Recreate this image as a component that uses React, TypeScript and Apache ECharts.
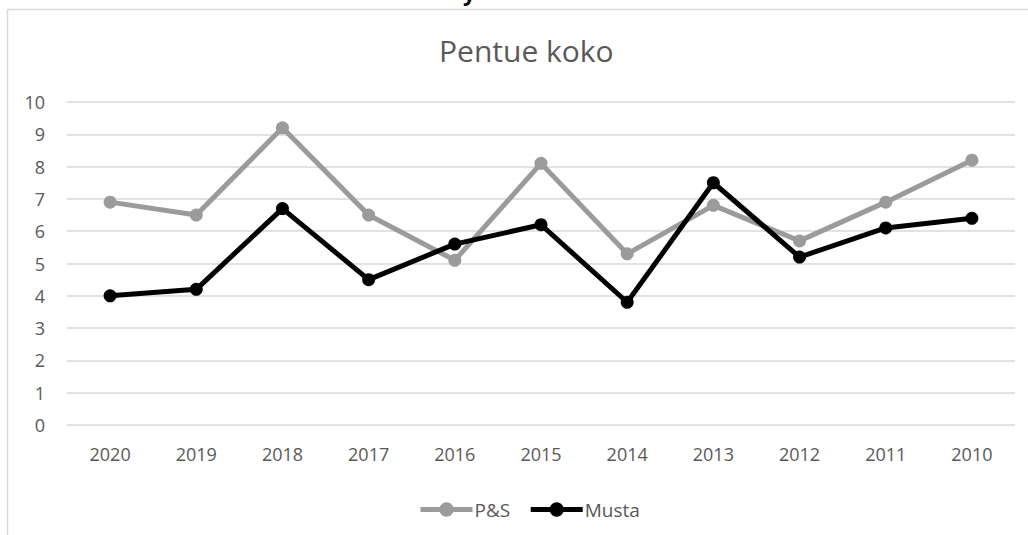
import React, { useEffect, useRef } from "react";
import * as echarts from "echarts";

const categories = ["2020", "2019", "2018", "2017", "2016", "2015", "2014", "2013", "2012", "2011", "2010"];
const psValues = [6.9, 6.5, 9.2, 6.5, 5.1, 8.1, 5.3, 6.8, 5.7, 6.9, 8.2];
const mustaValues = [4.0, 4.2, 6.7, 4.5, 5.6, 6.2, 3.8, 7.5, 5.2, 6.1, 6.4];
const seriesNames = ["P&S", "Musta"];
const titleText = "Pentue koko";

const FONT = "'Open Sans', 'Noto Sans', sans-serif";
const TEXT = "#595959";

export default function App() {
  const ref = useRef<HTMLDivElement>(null);
  useEffect(() => {
    if (!ref.current) return;
    const chart = echarts.init(ref.current, undefined, { renderer: "svg" });
    chart.setOption({
      animation: false,
      backgroundColor: "#ffffff",
      textStyle: { fontFamily: FONT },
      title: {
        text: titleText,
        left: 434,
        top: 30,
        textStyle: { fontFamily: FONT, fontSize: 30, fontWeight: "normal", color: TEXT },
      },
      graphic: [
        {
          type: "rect",
          shape: { x: 7.5, y: 9.5, width: 1100, height: 600 },
          style: { fill: "none", stroke: "#d9d9d9", lineWidth: 1.5 },
          silent: true,
        },
        {
          type: "text",
          x: 463,
          y: -19,
          style: { text: "y", fontSize: 22, fontWeight: "bold", fill: "#000", fontFamily: FONT },
          silent: true,
        },
      ],
      legend: {
        left: 413,
        top: 495,
        itemWidth: 52,
        itemHeight: 18,
        itemGap: 18,
        lineStyle: { width: 5 },
        textStyle: { fontFamily: FONT, fontSize: 19, color: TEXT, padding: [0, 0, 0, -3] },
        data: seriesNames,
      },
      grid: { left: 67, right: 13, top: 102, bottom: 110 },
      xAxis: {
        type: "category",
        data: categories,
        boundaryGap: true,
        axisLine: { show: false },
        axisTick: { show: false },
        axisLabel: { fontFamily: FONT, fontSize: 18, color: TEXT, margin: 20 },
      },
      yAxis: {
        type: "value",
        min: 0,
        max: 10,
        interval: 1,
        axisLine: { show: false },
        axisTick: { show: false },
        axisLabel: { fontFamily: FONT, fontSize: 18, color: TEXT, margin: 22 },
        splitLine: { lineStyle: { color: "#d9d9d9", width: 1.5 } },
      },
      series: [
        {
          name: seriesNames[0],
          type: "line",
          data: psValues,
          symbol: "circle",
          symbolSize: 13,
          itemStyle: { color: "#9b9b9b" },
          lineStyle: { color: "#9b9b9b", width: 5 },
        },
        {
          name: seriesNames[1],
          type: "line",
          data: mustaValues,
          symbol: "circle",
          symbolSize: 13,
          itemStyle: { color: "#000000" },
          lineStyle: { color: "#000000", width: 5 },
        },
      ],
    });
    return () => chart.dispose();
  }, []);
  return (
    <div
      ref={ref}
      style={{ position: "fixed", left: 0, top: 0, width: 1028, height: 535, background: "#fff" }}
    />
  );
}
